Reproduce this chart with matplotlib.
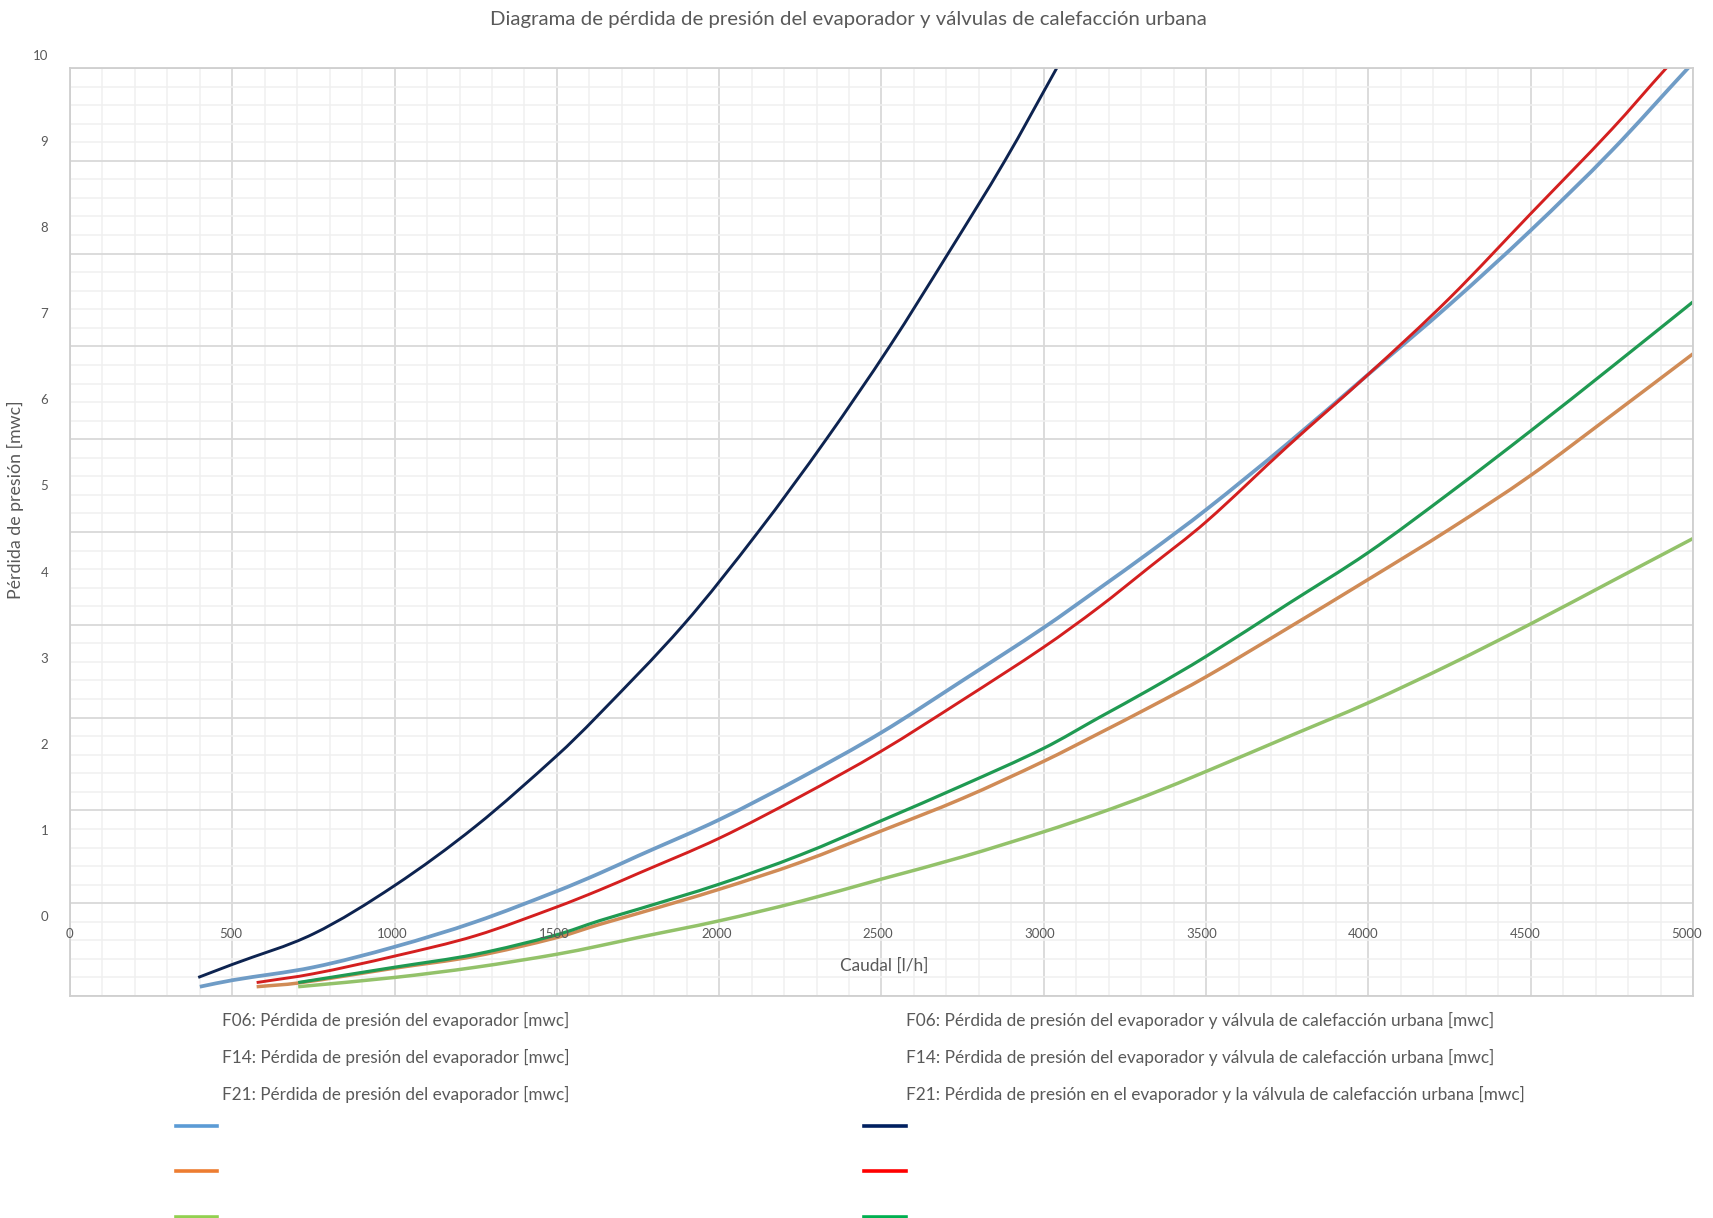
import matplotlib.pyplot as plt
from matplotlib.lines import Line2D
from matplotlib.path import Path
from matplotlib.patches import PathPatch
from matplotlib.ticker import MultipleLocator

plt.rcParams['font.family'] = ['Lato', 'DejaVu Sans']

# caudal [l/h] and pérdida de presión [mwc]
x_f06_evap = [400, 500, 750, 1000, 1250, 1500, 1630, 1750, 2000, 2250, 2500, 2750, 3000,
              3170, 3325, 3500, 3750, 4000, 4250, 4500, 4750, 4985, 5000]
y_f06_evap = [0.10, 0.17, 0.31, 0.53, 0.80, 1.13, 1.32, 1.51, 1.90, 2.35, 2.84, 3.40, 3.97,
              4.39, 4.78, 5.24, 5.95, 6.70, 7.45, 8.25, 9.11, 10.0, 10.05]

x_f14_evap = [575, 703, 1000, 1250, 1500, 1630, 1750, 2000, 2250, 2500, 2750, 3000, 3170,
              3325, 3500, 3750, 4000, 4250, 4500, 4750, 5000]
y_f14_evap = [0.10, 0.14, 0.30, 0.43, 0.63, 0.77, 0.89, 1.15, 1.44, 1.78, 2.13, 2.53, 2.83,
              3.11, 3.44, 3.96, 4.49, 5.03, 5.61, 6.26, 6.92]

x_f21_evap = [703, 1000, 1250, 1500, 1630, 1750, 2000, 2250, 2500, 2750, 3000, 3170, 3325,
              3500, 3750, 4000, 4250, 4500, 4750, 5000]
y_f21_evap = [0.10, 0.20, 0.31, 0.45, 0.54, 0.63, 0.81, 1.02, 1.26, 1.50, 1.77, 1.97, 2.17,
              2.42, 2.79, 3.16, 3.57, 4.01, 4.47, 4.93]

x_f06_valv = [395, 500, 750, 1000, 1250, 1500, 1620, 1890, 2120, 2330, 2525, 2705, 2880, 3040]
y_f06_valv = [0.20, 0.34, 0.67, 1.19, 1.83, 2.59, 3.0, 4.0, 5.0, 6.0, 7.0, 8.0, 9.0, 10.0]

x_f14_valv = [575, 750, 1000, 1250, 1500, 1630, 1750, 2000, 2250, 2500, 2750, 3000, 3170,
              3325, 3500, 3750, 4000, 4250, 4500, 4750, 4918, 5000]
y_f14_valv = [0.145, 0.24, 0.43, 0.65, 0.96, 1.14, 1.32, 1.70, 2.15, 2.64, 3.19, 3.76, 4.19,
              4.62, 5.11, 5.92, 6.70, 7.52, 8.43, 9.34, 10.0, 10.3]

x_f21_valv = [703, 1000, 1250, 1500, 1630, 1750, 2000, 2250, 2500, 2750, 3000, 3170, 3325,
              3500, 3750, 4000, 4250, 4500, 4750, 5000]
y_f21_valv = [0.145, 0.31, 0.45, 0.66, 0.81, 0.935, 1.205, 1.52, 1.89, 2.27, 2.67, 3.00, 3.30,
              3.66, 4.22, 4.78, 5.42, 6.09, 6.78, 7.48]

left_labels = ['F06: Pérdida de presión del evaporador [mwc]',
               'F14: Pérdida de presión del evaporador [mwc]',
               'F21: Pérdida de presión del evaporador [mwc]']
right_labels = ['F06: Pérdida de presión del evaporador y válvula de calefacción urbana [mwc]',
                'F14: Pérdida de presión del evaporador y válvula de calefacción urbana [mwc]',
                'F21: Pérdida de presión en el evaporador y la válvula de calefacción urbana [mwc]']
left_swatch = ['#5b9bd5', '#ed7d31', '#92d050']
right_swatch = ['#002060', '#ff0000', '#00b050']

W, H = 1713, 1218
TXT = '#595959'


def smoothed(xs, ys):
    # smoothed line like Excel's: cubic Hermite pieces (in x) written as Beziers
    n = len(xs)
    slopes = []
    for i in range(n):
        a = max(i - 1, 0)
        b = min(i + 1, n - 1)
        slopes.append((ys[b] - ys[a]) / (xs[b] - xs[a]))
    verts = [(xs[0], ys[0])]
    codes = [Path.MOVETO]
    for i in range(n - 1):
        h = xs[i + 1] - xs[i]
        verts += [(xs[i] + h / 3, ys[i] + slopes[i] * h / 3),
                  (xs[i + 1] - h / 3, ys[i + 1] - slopes[i + 1] * h / 3),
                  (xs[i + 1], ys[i + 1])]
        codes += [Path.CURVE4] * 3
    return Path(verts, codes)


fig = plt.figure(figsize=(W / 100, H / 100), dpi=100)

ax = fig.add_axes([70 / W, 1 - 996 / H, 1623 / W, 928 / H])
ax.set_xlim(0, 5000)
ax.set_ylim(0, 10)
ax.xaxis.set_major_locator(MultipleLocator(500))
ax.xaxis.set_minor_locator(MultipleLocator(100))
ax.yaxis.set_major_locator(MultipleLocator(1))
ax.yaxis.set_minor_locator(MultipleLocator(0.2))
ax.grid(which='major', color='#d9d9d9', lw=1.3)
ax.grid(which='minor', color='#f0f0f0', lw=1.1)
ax.set_axisbelow(True)
ax.tick_params(which='both', length=0, labelbottom=False, labelleft=False)
for s in ax.spines.values():
    s.set_color('#cfcfcf')
    s.set_linewidth(1.3)

# drawing order as in the picture
series = [
    (x_f06_evap, y_f06_evap, '#6f9cc6', 2.7),
    (x_f14_evap, y_f14_evap, '#d08b56', 2.5),
    (x_f21_evap, y_f21_evap, '#93c26a', 2.5),
    (x_f06_valv, y_f06_valv, '#0d2350', 2.1),
    (x_f14_valv, y_f14_valv, '#d41f1f', 2.1),
    (x_f21_valv, y_f21_valv, '#1f9a52', 2.3),
]
for xs, ys, col, lw in series:
    ax.add_patch(PathPatch(smoothed(xs, ys), fill=False, edgecolor=col, lw=lw))

# the tick labels sit off the grid in the original, so they get their own frame
lab = fig.add_axes([69 / W, 1 - 916 / H, 1618 / W, 861 / H])
lab.set_xlim(0, 5000)
lab.set_ylim(0, 10)
lab.patch.set_visible(False)
for s in lab.spines.values():
    s.set_visible(False)
lab.set_xticks(range(0, 5001, 500))
lab.set_yticks(range(0, 11))
lab.tick_params(axis='x', length=0, pad=9, labelsize=9.5, labelcolor=TXT)
lab.tick_params(axis='y', length=0, pad=15, labelsize=9.5, labelcolor=TXT)

fig.text(848 / W, 1 - 19 / H, 'Diagrama de pérdida de presión del evaporador y válvulas de calefacción urbana',
         ha='center', va='center', fontsize=14.7, color=TXT)
fig.text(884 / W, 1 - 966 / H, 'Caudal [l/h]', ha='center', va='center', fontsize=12.4, color=TXT)
fig.text(15 / W, 1 - 500 / H, 'Pérdida de presión [mwc]', ha='center', va='center',
         rotation=90, fontsize=12.8, color=TXT)

# legend laid out like the exported one: names above, swatches below
text_rows = [1020, 1057, 1094]
line_rows = [1126, 1171, 1217]
for i in range(3):
    fig.text(222 / W, 1 - text_rows[i] / H, left_labels[i], ha='left', va='center',
             fontsize=12.3, color=TXT)
    fig.text(906 / W, 1 - text_rows[i] / H, right_labels[i], ha='left', va='center',
             fontsize=12.45, color=TXT)
    fig.add_artist(Line2D([176 / W, 217 / W], [1 - line_rows[i] / H] * 2,
                          transform=fig.transFigure, color=left_swatch[i], lw=2.6))
    fig.add_artist(Line2D([864 / W, 906 / W], [1 - line_rows[i] / H] * 2,
                          transform=fig.transFigure, color=right_swatch[i], lw=2.6))

fig.savefig('out.png', dpi=100)
